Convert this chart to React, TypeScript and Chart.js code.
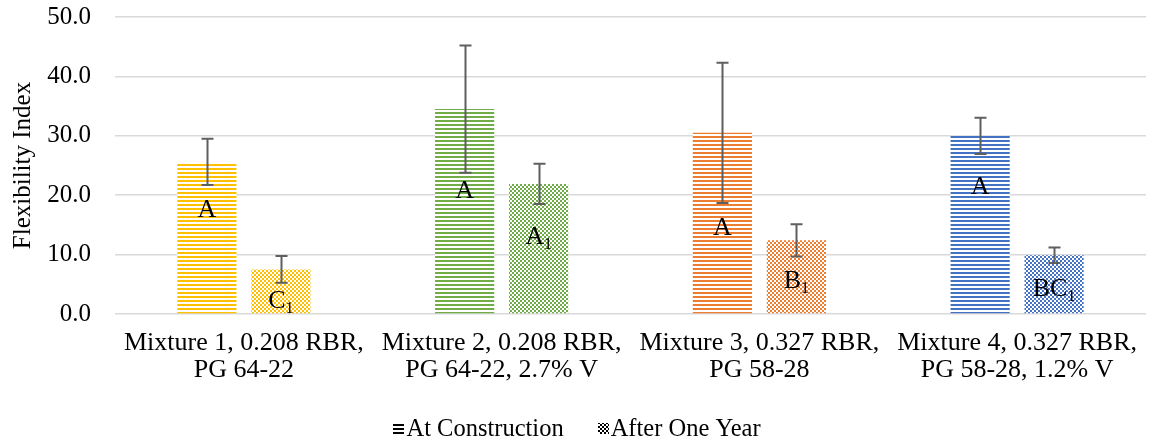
import React, { useEffect, useRef } from 'react';
import { Chart, registerables } from 'chart.js';

Chart.register(...registerables);

const categories: string[][] = [
  ['Mixture 1, 0.208 RBR,', 'PG 64-22'],
  ['Mixture 2, 0.208 RBR,', 'PG 64-22, 2.7% V'],
  ['Mixture 3, 0.327 RBR,', 'PG 58-28'],
  ['Mixture 4, 0.327 RBR,', 'PG 58-28, 1.2% V'],
];
const seriesNames = ['At Construction', 'After One Year'];
const construction = [25.6, 34.5, 30.5, 30.0];
const constructionErr = [3.9, 10.7, 11.8, 3.05];
const afterYear = [7.5, 21.9, 12.4, 9.9];
const afterYearErr = [2.25, 3.4, 2.7, 1.3];
const constructionLetters = ['A', 'A', 'A', 'A'];
const constructionSub = ['', '', '', ''];
const afterYearLetters = ['C', 'A', 'B', 'BC'];
const afterYearSub = ['1', '1', '1', '1'];
const constructionLetterY = [17.7, 20.9, 14.8, 21.6];
const afterYearLetterY = [2.5, 13.3, 5.9, 4.4];
const barColors = ['#FFC000', '#70AD47', '#ED7D31', '#4472C4'];
const yMin = 0;
const yMax = 50;
const yStep = 10;

const FONT = "'Liberation Serif', 'Times New Roman', serif";

function stripePattern(ctx: CanvasRenderingContext2D, color: string) {
  const c = document.createElement('canvas');
  c.width = 4;
  c.height = 4;
  const g = c.getContext('2d')!;
  g.fillStyle = '#ffffff';
  g.fillRect(0, 0, 4, 4);
  g.fillStyle = color;
  g.fillRect(0, 0, 4, 2);
  return ctx.createPattern(c, 'repeat')!;
}

function checkerPattern(ctx: CanvasRenderingContext2D, color: string) {
  const c = document.createElement('canvas');
  c.width = 4;
  c.height = 4;
  const g = c.getContext('2d')!;
  g.fillStyle = '#ffffff';
  g.fillRect(0, 0, 4, 4);
  g.fillStyle = color;
  g.fillRect(0, 0, 2, 2);
  g.fillRect(2, 2, 2, 2);
  return ctx.createPattern(c, 'repeat')!;
}

export default function App() {
  const ref = useRef<HTMLCanvasElement | null>(null);

  useEffect(() => {
    const canvas = ref.current!;
    const ctx = canvas.getContext('2d')!;
    const errs = [constructionErr, afterYearErr];
    const letters = [constructionLetters, afterYearLetters];
    const subs = [constructionSub, afterYearSub];
    const letterY = [constructionLetterY, afterYearLetterY];

    const overlay = {
      id: 'overlay',
      afterDatasetsDraw(chart: any) {
        const c = chart.ctx as CanvasRenderingContext2D;
        const ys = chart.scales.y;
        chart.data.datasets.forEach((ds: any, di: number) => {
          const meta = chart.getDatasetMeta(di);
          meta.data.forEach((bar: any, i: number) => {
            const v = ds.data[i] as number;
            const e = errs[di][i];
            const x = Math.round(bar.x) + 0.5;
            const yTop = ys.getPixelForValue(v + e);
            const yBot = ys.getPixelForValue(v - e);
            c.save();
            c.strokeStyle = '#5f5f5f';
            c.lineWidth = 2;
            c.beginPath();
            c.moveTo(x, yTop);
            c.lineTo(x, yBot);
            c.moveTo(x - 6, yTop);
            c.lineTo(x + 6, yTop);
            c.moveTo(x - 6, yBot);
            c.lineTo(x + 6, yBot);
            c.stroke();
            c.restore();

            const main = letters[di][i];
            const sub = subs[di][i];
            c.save();
            c.fillStyle = '#000000';
            c.textBaseline = 'alphabetic';
            c.textAlign = 'left';
            c.font = `26px ${FONT}`;
            const mw = c.measureText(main).width;
            c.font = `16px ${FONT}`;
            const sw = sub ? c.measureText(sub).width : 0;
            const total = mw + sw;
            const cy = ys.getPixelForValue(letterY[di][i]);
            const base = cy + 8.6;
            const sx = bar.x - total / 2;
            c.font = `26px ${FONT}`;
            c.fillText(main, sx, base);
            if (sub) {
              c.font = `16px ${FONT}`;
              c.fillText(sub, sx + mw, base + 5);
            }
            c.restore();
          });
        });
      },
      afterDraw(chart: any) {
        const c = chart.ctx as CanvasRenderingContext2D;
        c.save();
        c.font = `24.5px ${FONT}`;
        c.textBaseline = 'alphabetic';
        c.fillStyle = '#000000';
        const iconSize = 11;
        const gap = 2;
        const itemGap = 34;
        const widths = seriesNames.map((n) => iconSize + gap + c.measureText(n).width);
        const totalW = widths.reduce((a, b) => a + b, 0) + itemGap;
        let x = 577 - totalW / 2;
        const cy = 428;
        seriesNames.forEach((n, k) => {
          const ix = Math.round(x);
          const iy = Math.round(cy - iconSize / 2);
          c.fillStyle = '#ffffff';
          c.fillRect(ix, iy, iconSize, iconSize);
          c.fillStyle = k === 0 ? stripePattern(c, '#000000') : checkerPattern(c, '#000000');
          c.fillRect(ix, iy, iconSize, iconSize);
          c.fillStyle = '#000000';
          c.fillText(n, x + iconSize + gap, cy + 8);
          x += widths[k] + itemGap;
        });
        c.restore();
      },
    };

    const chart = new Chart(canvas, {
      type: 'bar',
      data: {
        labels: categories,
        datasets: [
          {
            label: seriesNames[0],
            data: construction,
            backgroundColor: barColors.map((col) => stripePattern(ctx, col)),
            borderWidth: 0,
            categoryPercentage: 0.574,
            barPercentage: 0.8,
          },
          {
            label: seriesNames[1],
            data: afterYear,
            backgroundColor: barColors.map((col) => checkerPattern(ctx, col)),
            borderWidth: 0,
            categoryPercentage: 0.574,
            barPercentage: 0.8,
          },
        ],
      },
      options: {
        responsive: false,
        animation: false,
        devicePixelRatio: 1,
        layout: { padding: { top: 17, right: 4, bottom: 0, left: 0 } },
        plugins: {
          legend: { display: false },
          tooltip: { enabled: false },
        },
        scales: {
          x: {
            grid: { display: false },
            border: { display: false },
            ticks: {
              color: '#000000',
              font: { family: FONT, size: 26, lineHeight: 1.04 },
              padding: 8,
              maxRotation: 0,
              autoSkip: false,
            },
            afterFit(scale: any) {
              scale.height = 126;
              scale.paddingTop = 0;
              scale.paddingBottom = 0;
            },
          },
          y: {
            min: yMin,
            max: yMax,
            border: { display: false },
            grid: { color: '#d9d9d9', lineWidth: 1.5, drawTicks: false },
            ticks: {
              stepSize: yStep,
              color: '#000000',
              padding: 24,
              font: { family: FONT, size: 25 },
              callback: (v: any) => Number(v).toFixed(1),
            },
            title: {
              display: true,
              text: 'Flexibility Index',
              color: '#000000',
              font: { family: FONT, size: 25 },
              padding: { top: 8, bottom: 0 },
            },
            afterFit(scale: any) {
              scale.width = 115;
              scale.paddingTop = 0;
              scale.paddingBottom = 0;
            },
          },
        },
      },
      plugins: [overlay],
    });
    return () => chart.destroy();
  }, []);

  return (
    <div style={{ position: 'absolute', left: 0, top: 0, width: 1150, height: 440, background: '#ffffff' }}>
      <canvas ref={ref} width={1150} height={440} />
    </div>
  );
}
